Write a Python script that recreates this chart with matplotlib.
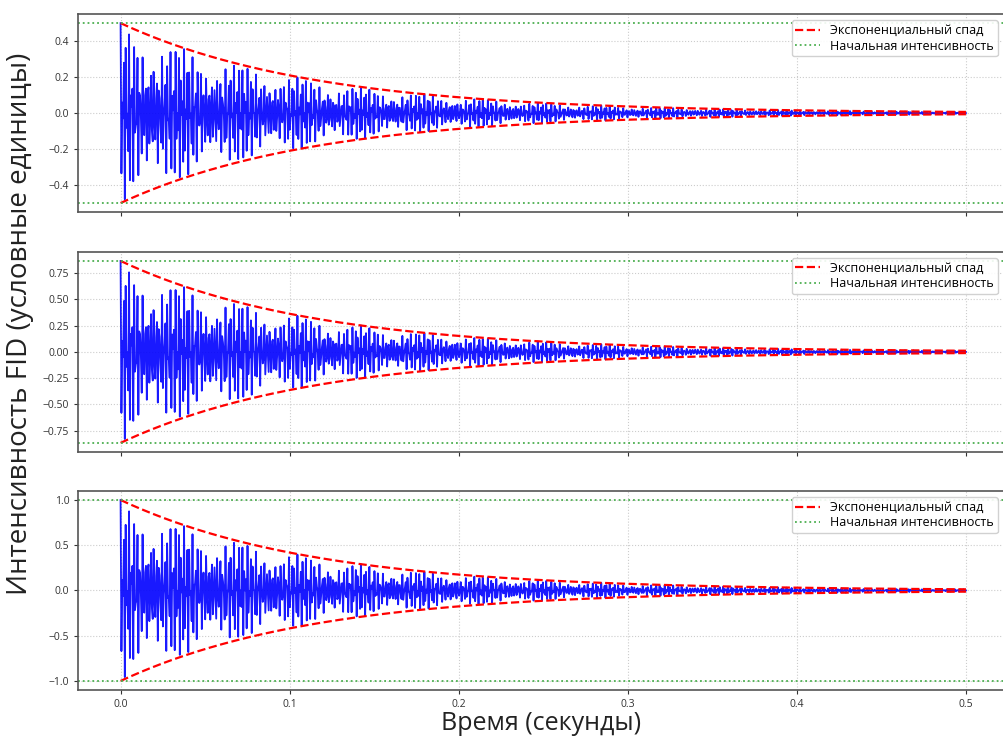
import numpy as np
import matplotlib.pyplot as plt

plt.rcParams['font.family'] = ['Open Sans', 'DejaVu Sans']

# FID parameters for the three pulse settings
amplitudes = [0.5, 0.866, 1.0]
t2_time = 0.115          # seconds
freqs = [612, 1013]      # Hz, components of the signal
t_end = 0.5
n_points = 1000

t = np.linspace(0, t_end, n_points)
decay = np.exp(-t / t2_time)
carrier = np.mean([np.cos(2 * np.pi * f * t) for f in freqs], axis=0)

fig = plt.figure(figsize=(10.04, 7.44), dpi=100)
boxes = [
    [0.078, 0.715, 0.922, 0.266],
    [0.078, 0.3925, 0.922, 0.269],
    [0.078, 0.0726, 0.922, 0.2675],
]
axes = []
for i, (amp, box) in enumerate(zip(amplitudes, boxes)):
    ax = fig.add_axes(box, sharex=axes[0] if axes else None)
    axes.append(ax)
    ax.plot(t, amp * decay * carrier, color='blue', lw=1.3, alpha=0.9)
    ax.plot(t, amp * decay, 'r--', lw=1.6, label='Экспоненциальный спад')
    ax.plot(t, -amp * decay, 'r--', lw=1.6)
    ax.axhline(amp, color='#4caf50', ls=':', lw=1.3, label='Начальная интенсивность')
    ax.axhline(-amp, color='#4caf50', ls=':', lw=1.3)
    ax.grid(True, ls=':', color='#cccccc', lw=0.8)
    ax.tick_params(labelsize=7.5, colors='#333333', length=3)
    for sp in ax.spines.values():
        sp.set_edgecolor('#555555')
        sp.set_linewidth(1.2)
    ax.legend(loc='upper right', fontsize=9, framealpha=0.9,
              borderpad=0.3, labelspacing=0.2, handlelength=2.0)
    if i < 2:
        ax.tick_params(labelbottom=False)

axes[0].set_xlim(-0.025, 0.5225)
axes[2].set_yticks([-1.0, -0.5, 0.0, 0.5, 1.0])
axes[2].set_xlabel('Время (секунды)', fontsize=18, color='#222222', labelpad=1)
fig.text(0.02, 0.565, 'Интенсивность FID (условные единицы)', rotation=90,
         fontsize=20, color='#222222', ha='center', va='center')

fig.savefig('out.png', dpi=100)
